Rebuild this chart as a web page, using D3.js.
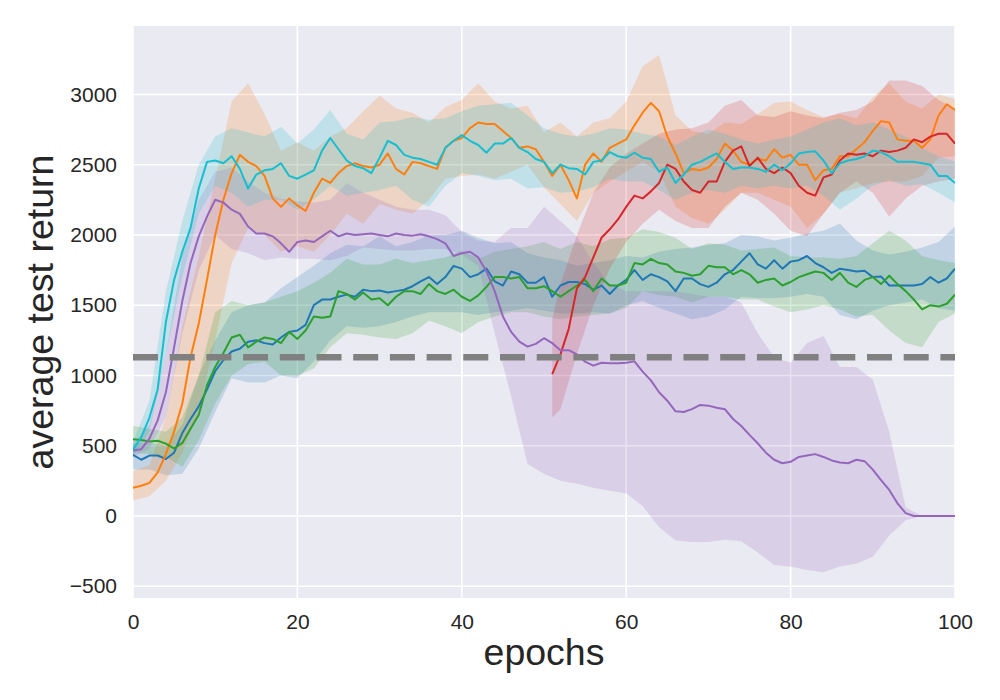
<!DOCTYPE html>
<html>
<head>
<meta charset="utf-8">
<script src="https://cdn.jsdelivr.net/npm/d3@7"></script>
<style>
  body { margin: 0; background: #fff; }
  text { font-family: "Liberation Sans", Arial, sans-serif; fill: #262626; }
</style>
</head>
<body>
<svg width="1000" height="700"></svg>
<script>
// epochs for the mean curves and for the shaded bands
var epochs = d3.range(0, 101);
var bandEpochs = d3.range(0, 101, 2);
var redEpochs = d3.range(51, 101);
var redBandEpochs = [51].concat(d3.range(52, 101, 2));

var xTicks = [0, 20, 40, 60, 80, 100];
var yTicks = [-500, 0, 500, 1000, 1500, 2000, 2500, 3000];
var baseline = 1130;

var blueMean = [435,400,430,430,405,450,590,690,780,900,
  1030,1110,1170,1190,1240,1250,1230,1220,1270,1310,
  1320,1360,1500,1540,1540,1560,1575,1560,1610,1600,
  1605,1590,1600,1610,1635,1670,1700,1650,1700,1780,
  1760,1700,1720,1760,1670,1640,1740,1720,1660,1660,
  1700,1560,1640,1665,1665,1650,1610,1640,1580,1640,
  1680,1750,1680,1720,1700,1670,1600,1690,1690,1650,
  1630,1660,1720,1750,1810,1870,1790,1760,1820,1760,
  1810,1820,1850,1800,1770,1730,1760,1750,1740,1745,
  1700,1705,1640,1640,1640,1640,1650,1700,1660,1690,
  1760];
var blueLo = [330,330,290,300,480,740,980,950,950,1000,980,1100,1250,1350,1340,1350,1380,1420,1450,1450,
  1450,1430,1450,1460,1480,1460,1440,1440,1450,1440,1500,1530,1480,1440,1400,1420,1470,1560,1550,1550,
  1560,1580,1560,1430,1400,1460,1500,1520,1540,1480,1460];
var blueHi = [510,520,500,650,1000,1250,1450,1500,1520,1620,1700,1780,1870,1930,1920,1990,1920,1950,2000,2000,
  2030,1980,1940,1950,1870,1840,1820,1780,1800,1820,1850,1840,1880,1900,1910,1930,1940,2000,1990,1960,
  1980,2010,2030,2080,1960,1890,1860,1880,1910,1950,2060];

var orangeMean = [200,215,235,310,440,600,800,1130,1370,1680,
  2000,2250,2440,2570,2520,2490,2420,2260,2200,2260,
  2210,2170,2300,2400,2370,2440,2490,2510,2490,2480,
  2500,2580,2470,2430,2520,2510,2490,2470,2620,2670,
  2690,2760,2800,2790,2790,2740,2690,2620,2630,2610,
  2520,2420,2500,2390,2260,2500,2580,2520,2620,2650,
  2680,2780,2870,2940,2880,2700,2580,2440,2470,2460,
  2480,2540,2650,2600,2520,2500,2540,2530,2610,2550,
  2570,2500,2500,2390,2460,2470,2560,2560,2610,2660,
  2740,2810,2800,2680,2670,2670,2620,2680,2850,2930,
  2890];
var orangeLo = [110,140,250,450,750,1250,1800,2050,2000,1880,1920,1880,2000,2150,2080,2220,2180,2150,2250,2400,
  2420,2430,2400,2450,2500,2340,2220,2100,2300,2380,2450,2520,2450,2200,2120,2080,2180,2300,2300,2250,
  2200,2050,2150,2300,2330,2370,2380,2380,2420,2550,2560];
var orangeHi = [320,360,700,1350,1850,2400,2950,3080,2860,2600,2660,2600,2700,2760,2880,2990,2900,2870,2800,2910,
  2960,3080,2950,2900,2920,2730,2800,2700,2800,2830,2950,3200,3280,2850,2740,2720,2800,2790,2860,2940,
  2950,2890,2840,2860,2830,2980,3080,2950,2900,3000,2970];

var greenMean = [545,540,530,535,515,480,520,620,720,930,
  1060,1160,1270,1290,1200,1240,1270,1260,1230,1310,
  1260,1320,1420,1410,1420,1600,1580,1540,1590,1540,
  1550,1500,1560,1600,1600,1580,1650,1600,1580,1610,
  1560,1530,1570,1630,1700,1700,1690,1700,1620,1620,
  1635,1600,1560,1600,1640,1680,1600,1690,1640,1640,
  1660,1800,1790,1830,1800,1790,1740,1730,1710,1720,
  1780,1770,1770,1720,1750,1720,1660,1680,1690,1640,
  1665,1700,1720,1740,1730,1680,1730,1660,1630,1680,
  1700,1650,1710,1650,1600,1540,1470,1500,1490,1510,
  1575];
var greenLo = [450,440,420,350,540,800,1000,1080,1100,1000,1000,1050,1200,1300,1290,1270,1260,1300,1390,1350,
  1300,1380,1420,1450,1450,1420,1400,1420,1430,1440,1480,1600,1570,1560,1520,1560,1560,1540,1540,1490,
  1450,1470,1500,1470,1420,1430,1320,1230,1200,1380,1440];
var greenHi = [640,620,600,700,1000,1450,1530,1500,1520,1560,1600,1660,1730,1830,1790,1790,1830,1800,1820,1840,
  1890,1830,1880,1900,1920,1950,1900,1950,1920,1970,1980,2040,2020,1980,1900,1940,1930,1890,1900,1910,
  1850,1840,1840,1830,1850,1940,2030,1960,1850,1820,1800];

var redMean = [1010,1150,1330,1620,1700,1840,1980,2040,2110,2200,
  2280,2260,2310,2370,2500,2470,2380,2320,2300,2380,
  2380,2520,2600,2630,2490,2550,2470,2440,2480,2440,
  2350,2300,2280,2410,2430,2530,2580,2570,2580,2560,
  2600,2590,2600,2620,2680,2660,2700,2720,2720,2650];
var redLo = [700,760,1150,1500,1760,1950,2080,2180,2100,2050,2050,2200,2300,2250,2150,2030,1990,2150,2300,2380,
  2300,2130,2260,2350,2380,2400];
var redHi = [1400,1650,2000,2300,2480,2580,2650,2720,2750,2760,2800,2920,2960,2850,2840,2880,2850,2830,2870,2890,
  2950,3100,3100,3060,2960,2900];

var purpleMean = [465,475,550,680,880,1200,1530,1800,1990,2130,
  2250,2230,2180,2150,2060,2010,2010,1990,1940,1880,
  1950,1960,1950,1990,2030,1990,2010,2000,2005,2010,
  2000,1990,2010,2000,1995,2005,1990,1970,1940,1850,
  1870,1880,1840,1740,1600,1420,1310,1240,1205,1225,
  1265,1230,1180,1180,1150,1098,1070,1090,1086,1086,
  1090,1100,1027,965,880,820,745,740,760,790,
  785,770,760,690,640,577,517,450,400,375,
  385,420,430,440,420,395,380,375,400,390,
  330,255,185,90,20,0,0,0,0,0,
  0];
var purpleLo = [420,480,700,1300,1750,2000,1900,1870,1820,1840,1830,1830,1820,1850,1910,1900,1890,1890,1900,1900,
  1860,1780,1300,850,370,300,250,230,200,180,160,70,-80,-175,-185,-185,-170,-180,-260,-350,
  -360,-385,-400,-360,-340,-290,-140,-30,0,0,0];
var purpleHi = [510,650,1150,1850,2250,2450,2480,2380,2300,2260,2240,2230,2250,2370,2300,2250,2200,2180,2180,2140,
  2020,1960,1950,2050,2050,2200,2100,1990,1800,1650,1600,1600,1600,1600,1580,1560,1560,1520,1300,1130,
  1090,1230,1280,1060,1060,970,600,60,0,0,0];

var cyanMean = [470,560,700,900,1380,1680,1880,2050,2330,2520,
  2530,2510,2560,2470,2330,2430,2460,2470,2510,2420,
  2400,2430,2460,2600,2690,2610,2530,2490,2475,2440,
  2550,2670,2640,2570,2550,2540,2520,2500,2620,2670,
  2710,2670,2640,2585,2650,2650,2690,2620,2590,2540,
  2520,2440,2500,2475,2470,2430,2520,2530,2590,2560,
  2550,2585,2550,2540,2450,2480,2370,2430,2500,2520,
  2550,2580,2520,2470,2480,2480,2470,2450,2500,2460,
  2510,2580,2590,2595,2530,2440,2510,2530,2540,2560,
  2600,2590,2560,2520,2520,2520,2510,2500,2420,2420,
  2370];
var cyanLo = [420,600,1150,1700,2150,2350,2300,2200,2250,2250,2180,2250,2350,2280,2300,2320,2350,2250,2200,2350,
  2440,2420,2390,2400,2330,2340,2300,2310,2340,2400,2380,2380,2320,2250,2300,2320,2300,2350,2330,2350,
  2330,2350,2280,2180,2260,2350,2390,2350,2360,2300,2230];
var cyanHi = [530,820,1600,2100,2500,2700,2760,2730,2700,2770,2650,2750,2890,2720,2680,2800,2810,2840,2820,2830,
  2880,2920,2930,2940,2850,2760,2720,2700,2720,2760,2750,2720,2700,2640,2700,2750,2720,2680,2650,2680,
  2700,2750,2800,2830,2780,2800,2750,2700,2620,2560,2520];

var series = [
  {color: "#1f77b4", ep: epochs, mean: blueMean, bep: bandEpochs, lo: blueLo, hi: blueHi},
  {color: "#ff7f0e", ep: epochs, mean: orangeMean, bep: bandEpochs, lo: orangeLo, hi: orangeHi},
  {color: "#2ca02c", ep: epochs, mean: greenMean, bep: bandEpochs, lo: greenLo, hi: greenHi},
  {color: "#d62728", ep: redEpochs, mean: redMean, bep: redBandEpochs, lo: redLo, hi: redHi},
  {color: "#9467bd", ep: epochs, mean: purpleMean, bep: bandEpochs, lo: purpleLo, hi: purpleHi},
  {color: "#17becf", ep: epochs, mean: cyanMean, bep: bandEpochs, lo: cyanLo, hi: cyanHi}
];

var svg = d3.select("svg"),
    margin = {top: 26, right: 45, bottom: 102, left: 133},
    width = 1000 - margin.left - margin.right,
    height = 700 - margin.top - margin.bottom;

var x = d3.scaleLinear().domain([0, 100]).range([0, width]);
var y = d3.scaleLinear().domain([-584, 3487]).range([height, 0]);

var g = svg.append("g")
    .attr("transform", "translate(" + margin.left + "," + margin.top + ")");

g.append("rect")
    .attr("width", width)
    .attr("height", height)
    .attr("fill", "#eaeaf2");

// white grid
var grid = g.append("g");
grid.selectAll(".hgrid").data(yTicks).enter().append("line")
    .attr("x1", 0).attr("x2", width)
    .attr("y1", function(d) { return y(d); })
    .attr("y2", function(d) { return y(d); })
    .attr("stroke", "#fff").attr("stroke-width", 1.6);
grid.selectAll(".vgrid").data(xTicks).enter().append("line")
    .attr("y1", 0).attr("y2", height)
    .attr("x1", function(d) { return x(d); })
    .attr("x2", function(d) { return x(d); })
    .attr("stroke", "#fff").attr("stroke-width", 1.6);

var clip = g.append("clipPath").attr("id", "plotclip");
clip.append("rect").attr("width", width).attr("height", height);

var plot = g.append("g").attr("clip-path", "url(#plotclip)");

series.forEach(function(s) {
  var area = d3.area()
      .x(function(d, i) { return x(s.bep[i]); })
      .y0(function(d, i) { return y(s.lo[i]); })
      .y1(function(d, i) { return y(s.hi[i]); });
  plot.append("path")
      .attr("d", area(s.lo))
      .attr("fill", s.color)
      .attr("fill-opacity", 0.2);
});

series.forEach(function(s) {
  var line = d3.line()
      .x(function(d, i) { return x(s.ep[i]); })
      .y(function(d) { return y(d); });
  plot.append("path")
      .attr("d", line(s.mean))
      .attr("fill", "none")
      .attr("stroke", s.color)
      .attr("stroke-width", 2)
      .attr("stroke-linejoin", "round");
});

plot.append("line")
    .attr("x1", 0).attr("x2", width)
    .attr("y1", y(baseline)).attr("y2", y(baseline))
    .attr("stroke", "#808080")
    .attr("stroke-width", 6.5)
    .attr("stroke-dasharray", "25,11.7");

// tick labels, no thousands separator
var yAxis = g.append("g")
    .call(d3.axisLeft(y).tickValues(yTicks).tickFormat(d3.format("d")).tickSize(0).tickPadding(16));
yAxis.select(".domain").remove();
yAxis.selectAll("text").attr("font-size", 21).style("font-family", "'Liberation Sans', Arial, sans-serif").attr("fill", "#262626");

var xAxis = g.append("g")
    .attr("transform", "translate(0," + height + ")")
    .call(d3.axisBottom(x).tickValues(xTicks).tickFormat(d3.format("d")).tickSize(0).tickPadding(16));
xAxis.select(".domain").remove();
xAxis.selectAll("text").attr("font-size", 21).style("font-family", "'Liberation Sans', Arial, sans-serif").attr("fill", "#262626");

svg.append("text")
    .attr("transform", "translate(53," + (margin.top + height / 2) + ") rotate(-90)")
    .attr("text-anchor", "middle")
    .attr("font-size", 37.5)
    .text("average test return");

svg.append("text")
    .attr("x", margin.left + width / 2)
    .attr("y", 665)
    .attr("text-anchor", "middle")
    .attr("font-size", 37.5)
    .text("epochs");
</script>
</body>
</html>
